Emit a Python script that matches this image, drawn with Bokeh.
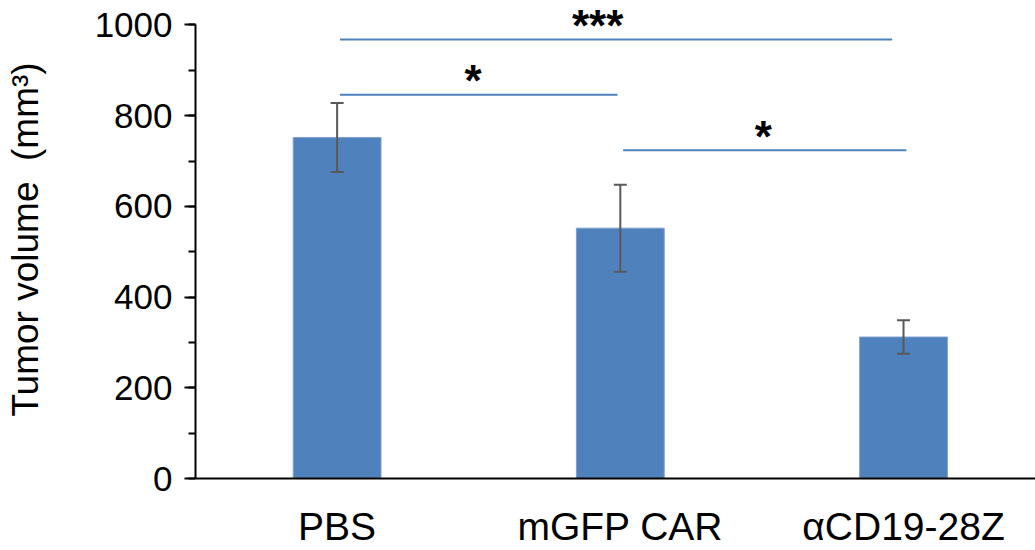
from bokeh.plotting import figure
from bokeh.models import (ColumnDataSource, Range1d, FixedTicker, SingleIntervalTicker,
                          Whisker, TeeHead)
from bokeh.core.properties import value
from bokeh.embed import file_html
from bokeh.resources import INLINE

# ---- data ----
categories = ["PBS", "mGFP CAR", "\u03b1CD19-28Z"]
volumes = [752, 552, 312]
errors = [76, 96, 37]

# significance brackets (category index units / mm3)
sig_x0 = [0.01, 0.01, 1.01]
sig_x1 = [1.96, 0.99, 2.01]
sig_y = [968, 846, 724]
sig_text = ["***", "*", "*"]
sig_text_x = [0.92, 0.48, 1.505]

FONT = "Liberation Sans"
BAR = "#4F81BD"
ERR = "#595959"

xs = list(range(len(categories)))
src = ColumnDataSource(dict(
    x=xs, top=volumes,
    upper=[v + e for v, e in zip(volumes, errors)],
    lower=[v - e for v, e in zip(volumes, errors)],
))

p = figure(width=1035, height=550, output_backend="svg", toolbar_location=None,
           x_range=Range1d(-0.5, 2.466), y_range=Range1d(0, 1054),
           min_border_left=195, min_border_right=0, min_border_top=0,
           min_border_bottom=70)
p.outline_line_color = None
p.grid.visible = False
p.background_fill_color = "white"
p.border_fill_color = "white"

p.vbar(x="x", top="top", width=0.31, source=src, fill_color=BAR,
       line_color="#7FA0CF", line_width=1)

p.add_layout(Whisker(base="x", upper="upper", lower="lower", source=src,
                     line_color=ERR, line_width=2, level="annotation",
                     upper_head=TeeHead(size=13, line_color=ERR, line_width=2),
                     lower_head=TeeHead(size=13, line_color=ERR, line_width=2)))

sig_src = ColumnDataSource(dict(x0=sig_x0, x1=sig_x1, y=sig_y, t=sig_text, tx=sig_text_x))
p.segment(x0="x0", y0="y", x1="x1", y1="y", source=sig_src, line_color=BAR, line_width=2)
p.text(x="tx", y="y", text="t", source=sig_src, text_align="center",
       text_baseline="alphabetic", y_offset=-14, text_font=value(FONT),
       text_font_size="44px", text_font_style="bold", text_color="black")

# y axis
yax = p.yaxis[0]
yax.ticker = SingleIntervalTicker(interval=200, num_minor_ticks=2)
yax.bounds = (0, 1000)
yax.axis_line_width = 2
yax.axis_line_color = "black"
yax.major_tick_line_width = 2
yax.minor_tick_line_width = 2
yax.major_tick_in = 0
yax.major_tick_out = 11
yax.minor_tick_in = 0
yax.minor_tick_out = 7
yax.major_label_text_font = FONT
yax.major_label_text_font_size = "35px"
yax.major_label_text_color = "black"
yax.major_label_standoff = 12
yax.axis_label = "Tumor volume\u00a0 (mm\u00b3)"
yax.axis_label_text_font = FONT
yax.axis_label_text_font_size = "37px"
yax.axis_label_text_font_style = "normal"
yax.axis_label_text_color = "black"
yax.axis_label_standoff = 46

# x axis
xax = p.xaxis[0]
xax.ticker = FixedTicker(ticks=xs)
xax.major_label_overrides = {i: c for i, c in zip(xs, categories)}
xax.axis_line_width = 2
xax.axis_line_color = "black"
xax.major_tick_in = 0
xax.major_tick_out = 0
xax.minor_tick_line_color = None
xax.major_label_text_font = FONT
xax.major_label_text_font_size = "39px"
xax.major_label_text_color = "black"
xax.major_label_standoff = 26

open("out.html", "w").write(file_html(p, INLINE))
